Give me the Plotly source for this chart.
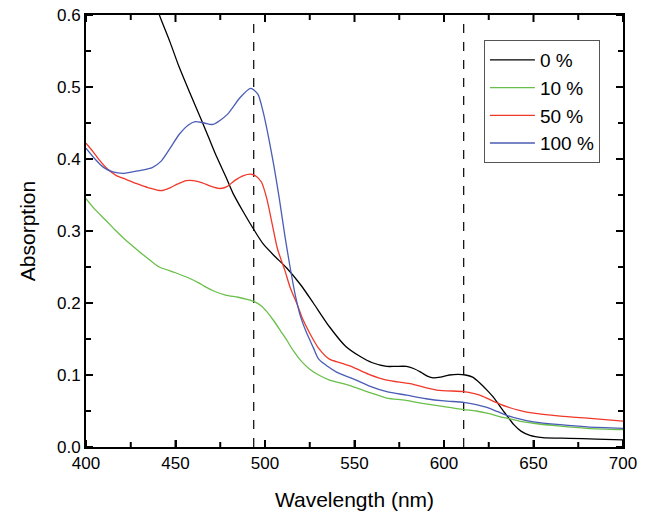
import numpy as np
import plotly.graph_objects as go

# ---- data ----
wl_0 = [437, 441, 447, 452, 458, 464, 469, 473, 478, 482, 488, 494, 499, 505, 512, 520, 527, 536,
        545, 553, 560, 568, 573, 579, 583, 587, 591, 594, 598, 603, 608, 612, 616, 620, 624, 628,
        632, 635, 639, 643, 648, 655, 670, 685, 700]
abs_0 = [0.630, 0.600, 0.562, 0.528, 0.492, 0.457, 0.427, 0.403, 0.376, 0.353, 0.326, 0.301, 0.282,
         0.266, 0.249, 0.225, 0.200, 0.167, 0.140, 0.126, 0.117, 0.112, 0.112, 0.112, 0.109, 0.104,
         0.098, 0.096, 0.097, 0.100, 0.101, 0.100, 0.097, 0.089, 0.079, 0.068, 0.054, 0.044, 0.031,
         0.022, 0.016, 0.013, 0.012, 0.011, 0.010]

wl_10 = [400, 405, 411, 416, 421, 430, 436, 441, 450, 458, 463, 467, 472, 478, 485, 490, 494, 498,
         501, 505, 509, 512, 516, 520, 525, 530, 536, 542, 549, 558, 568, 578, 587, 600, 611, 618,
         624, 630, 635, 642, 650, 665, 680, 700]
abs_10 = [0.345, 0.330, 0.315, 0.302, 0.290, 0.271, 0.259, 0.250, 0.242, 0.234, 0.228, 0.222, 0.216,
          0.211, 0.208, 0.205, 0.202, 0.196, 0.188, 0.175, 0.160, 0.149, 0.133, 0.120, 0.108, 0.100,
          0.093, 0.089, 0.084, 0.076, 0.068, 0.065, 0.061, 0.056, 0.052, 0.050, 0.047, 0.043, 0.040,
          0.036, 0.033, 0.029, 0.026, 0.024]

wl_50 = [400, 404, 408, 412, 417, 422, 428, 435, 442, 447, 451, 456, 460, 465, 470, 475, 479, 483,
         488, 492, 495, 498, 501, 504, 507, 511, 514, 518, 521, 525, 530, 536, 542, 549, 558, 568,
         581, 596, 611, 617, 622, 628, 635, 642, 650, 665, 680, 700]
abs_50 = [0.422, 0.410, 0.397, 0.386, 0.377, 0.372, 0.366, 0.360, 0.356, 0.360, 0.365, 0.370, 0.370,
          0.367, 0.362, 0.359, 0.362, 0.370, 0.377, 0.379, 0.376, 0.368, 0.345, 0.310, 0.275, 0.246,
          0.222, 0.198, 0.178, 0.158, 0.137, 0.122, 0.117, 0.111, 0.101, 0.093, 0.088, 0.079, 0.077,
          0.074, 0.070, 0.063, 0.056, 0.051, 0.047, 0.043, 0.040, 0.036]

wl_100 = [400, 405, 410, 415, 421, 430, 437, 442, 447, 452, 457, 461, 466, 471, 479, 486, 492, 496,
          499, 502, 505, 508, 511, 514, 517, 520, 523, 527, 530, 540, 549, 558, 568, 579, 590, 600,
          611, 618, 624, 630, 635, 642, 650, 665, 680, 700]
abs_100 = [0.415, 0.400, 0.388, 0.382, 0.380, 0.384, 0.388, 0.397, 0.415, 0.434, 0.447, 0.452, 0.450,
           0.448, 0.462, 0.485, 0.498, 0.490, 0.465, 0.430, 0.390, 0.345, 0.295, 0.250, 0.210, 0.180,
           0.160, 0.138, 0.122, 0.104, 0.095, 0.085, 0.077, 0.072, 0.067, 0.064, 0.062, 0.059, 0.055,
           0.049, 0.044, 0.039, 0.035, 0.031, 0.028, 0.026]

series_names = ["0 %", "10 %", "50 %", "100 %"]
series_colors = ["#000000", "#6abf4b", "#f0382a", "#4a5cb5"]
marker_lines = [493.7, 611.0]

x_range = [400, 700]
y_range = [0.0, 0.6]
x_major, x_minor = 50, 25
y_major, y_minor = 0.1, 0.05

FONT = "Liberation Sans, Arial, sans-serif"
W, H = 645, 515
M = dict(l=86, r=22, t=15, b=68)
plot_w = W - M["l"] - M["r"]
plot_h = H - M["t"] - M["b"]

fig = go.Figure()
for xs, ys, name, col in zip([wl_0, wl_10, wl_50, wl_100],
                             [abs_0, abs_10, abs_50, abs_100],
                             series_names, series_colors):
    fig.add_trace(go.Scatter(x=xs, y=ys, mode="lines", name=name,
                             line=dict(color=col, width=1.3, shape="spline", smoothing=0.7)))

for xv in marker_lines:
    fig.add_shape(type="line", xref="x", yref="paper", x0=xv, x1=xv, y0=0, y1=1,
                  line=dict(color="black", width=1.2, dash="dash"), layer="below")

# inward tick marks on all four sides (drawn like the dashed markers, in paper fractions)
xt_major = np.arange(x_range[0], x_range[1] + 1e-9, x_major)
xt_minor = np.arange(x_range[0] + x_minor, x_range[1], x_major)
yt_major = np.round(np.arange(y_range[0], y_range[1] + 1e-9, y_major), 3)
yt_minor = np.round(np.arange(y_range[0] + y_minor, y_range[1], y_major), 3)
tick_line = dict(color="black", width=2)

for ticks, length in [(xt_major, 7), (xt_minor, 5)]:
    f = length / plot_h
    for xv in ticks:
        for y0, y1 in [(0, f), (1, 1 - f)]:
            fig.add_shape(type="line", xref="x", yref="paper", x0=float(xv), x1=float(xv),
                          y0=y0, y1=y1, line=tick_line, layer="below")
for ticks, length in [(yt_major, 7), (yt_minor, 5)]:
    f = length / plot_w
    for yv in ticks:
        for x0, x1 in [(0, f), (1, 1 - f)]:
            fig.add_shape(type="line", yref="y", xref="paper", y0=float(yv), y1=float(yv),
                          x0=x0, x1=x1, line=tick_line, layer="below")

axis_common = dict(showline=True, linecolor="black", linewidth=2, mirror=True,
                   ticks="inside", ticklen=7, tickwidth=2, tickcolor="black",
                   showgrid=False, zeroline=False,
                   tickfont=dict(family=FONT, size=17, color="black"))

fig.update_xaxes(range=x_range, dtick=x_major, tick0=x_range[0],
                 title=dict(text="Wavelength (nm)", font=dict(family=FONT, size=21, color="black"),
                            standoff=20),
                 **axis_common)
fig.update_yaxes(range=y_range, dtick=y_major, tick0=0, tickformat=".1f",
                 title=dict(text="Absorption", font=dict(family=FONT, size=21, color="black"),
                            standoff=16),
                 **axis_common)

fig.update_layout(
    width=W, height=H,
    margin=dict(**M, autoexpand=False),
    plot_bgcolor="white", paper_bgcolor="white",
    font=dict(family=FONT, color="black"),
    legend=dict(x=0.741, y=0.942, xanchor="left", yanchor="top",
                bgcolor="white", bordercolor="#555555", borderwidth=1,
                font=dict(family=FONT, size=19, color="black"),
                tracegroupgap=0, itemwidth=45),
    showlegend=True,
)

fig.write_html("out.html", config={"displayModeBar": False},
               post_script="document.body.style.margin='0';document.body.style.overflow='hidden';")
